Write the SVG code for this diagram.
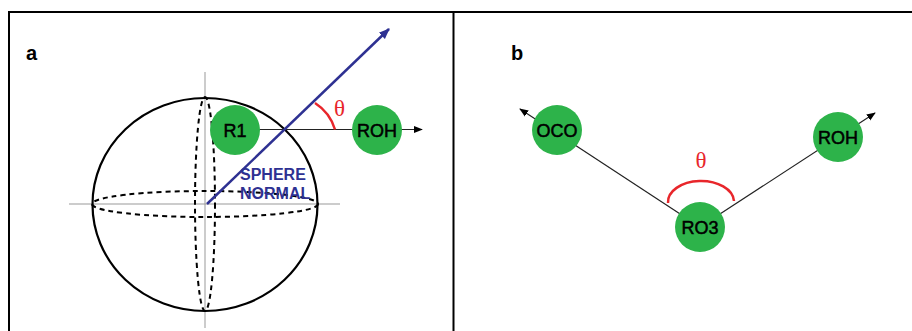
<svg xmlns="http://www.w3.org/2000/svg" width="912" height="331" viewBox="0 0 912 331">
<style>
.frame{fill:none;stroke:#000;stroke-width:2}
.axis{stroke:#999;stroke-width:1;fill:none}
.dash{fill:none;stroke:#000;stroke-width:2;stroke-dasharray:5,4}
.sphere{fill:none;stroke:#000;stroke-width:2.2}
.node{fill:#2db34a}
.lbl{font-family:"Liberation Sans",Arial,sans-serif;font-size:18px;fill:#000;stroke:#000;stroke-width:0.5;text-anchor:middle}
.conn{stroke:#222;stroke-width:1.2;fill:none}
.theta{font-family:"Liberation Serif","Times New Roman",serif;font-size:23px;fill:#e8262b}
.arc{fill:none;stroke:#e8262b;stroke-width:2.5}
.panel{font-family:"Liberation Sans",Arial,sans-serif;font-size:20px;font-weight:bold;fill:#000}
.normal{font-family:"Liberation Sans",Arial,sans-serif;font-size:16px;font-weight:bold;fill:#2e3192}
</style>
<defs>
<marker id="ah" viewBox="0 0 10 10" refX="9" refY="5" markerWidth="9" markerHeight="9" markerUnits="userSpaceOnUse" orient="auto"><path d="M0,1 L10,5 L0,9 Z" fill="#000"/></marker>
<marker id="ahb" viewBox="0 0 10 10" refX="9" refY="5" markerWidth="11" markerHeight="11" markerUnits="userSpaceOnUse" orient="auto"><path d="M0,1 L10,5 L0,9 Z" fill="#2e3192"/></marker>
</defs>
<rect width="912" height="331" fill="#fff"/>
<g id="frames">
<path class="frame" d="M9,331 V12 H912"/>
<path class="frame" d="M453.5,12 V331"/>
</g>
<text class="panel" x="26" y="60">a</text>
<text class="panel" x="511" y="60">b</text>
<g id="sphere">
<line class="axis" x1="205" y1="72" x2="205" y2="328"/>
<line class="axis" x1="69" y1="204" x2="340" y2="204"/>
<ellipse class="dash" cx="205" cy="204" rx="10" ry="107"/>
<ellipse class="dash" cx="205" cy="204" rx="113" ry="13"/>
<ellipse class="sphere" cx="205" cy="204.5" rx="112.5" ry="106.5"/>
</g>
<g id="connectors">
<line class="conn" x1="235" y1="129.5" x2="422" y2="129.5" marker-end="url(#ah)"/>
<line x1="207" y1="204" x2="389" y2="29" stroke="#2e3192" stroke-width="2.5" marker-end="url(#ahb)"/>
<path class="conn" d="M700,227 L520,109" marker-end="url(#ah)"/>
<path class="conn" d="M700,227 L875,113" marker-end="url(#ah)"/>
</g>
<g id="angle-a">
<path class="arc" d="M335,129.5 A48,48 0 0 0 315,103"/>
<text class="theta" x="334" y="116">θ</text>
</g>
<text class="normal" x="240" y="180">SPHERE</text>
<text class="normal" x="240" y="199">NORMAL</text>
<g id="R1"><circle class="node" cx="235" cy="130" r="25"/><text class="lbl" x="235" y="136.5">R1</text></g>
<g id="ROH-a"><circle class="node" cx="377" cy="130" r="25"/><text class="lbl" x="377" y="136.5">ROH</text></g>
<g id="OCO"><circle class="node" cx="557" cy="130" r="25"/><text class="lbl" x="557" y="136.5">OCO</text></g>
<g id="ROH-b"><circle class="node" cx="838" cy="137" r="25"/><text class="lbl" x="838" y="143.5">ROH</text></g>
<g id="angle-b">
<path class="arc" d="M668,203 A33,21 0 0 1 734,201"/>
<text class="theta" x="701" y="168" text-anchor="middle">θ</text>
</g>
<g id="RO3"><circle class="node" cx="700" cy="227" r="25"/><text class="lbl" x="700" y="233.5">RO3</text></g>
</svg>
